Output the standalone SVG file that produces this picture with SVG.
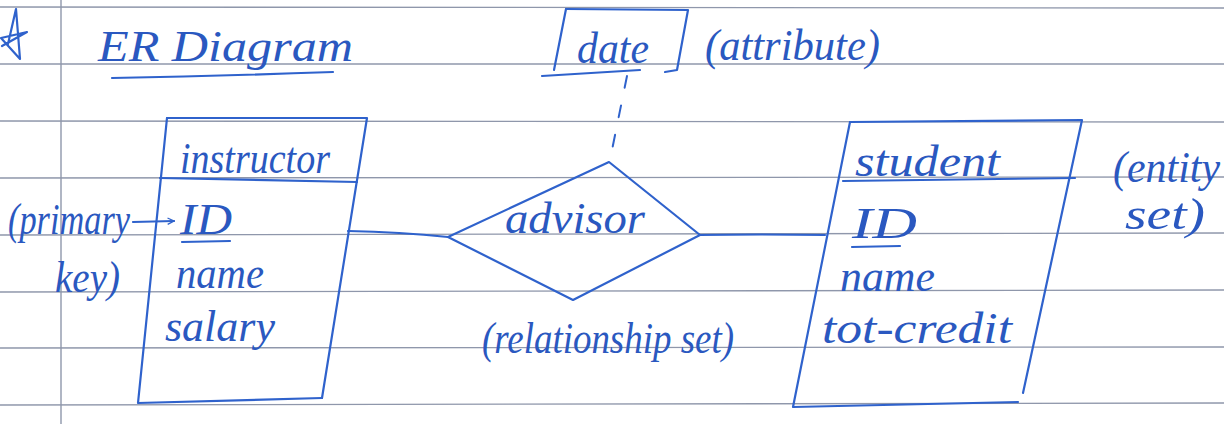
<svg xmlns="http://www.w3.org/2000/svg" width="1224" height="424" viewBox="0 0 1224 424">
<style>
.rule{stroke:#8f97ab;stroke-width:1.4;fill:none}
.pen{stroke:#2f62cc;stroke-width:2.2;fill:none;stroke-linecap:round;stroke-linejoin:round}
.dash{stroke:#2f62cc;stroke-width:2;fill:none;stroke-dasharray:12 18;stroke-linecap:round}
.hw{font-family:"Liberation Serif","DejaVu Serif",serif;font-style:italic;fill:#2a58c0;font-size:44px}
</style>
<defs>
<marker id="arr" viewBox="0 0 10 10" refX="9" refY="5" markerWidth="8" markerHeight="8" orient="auto" markerUnits="userSpaceOnUse">
<path d="M1,1 L9,5 L1,9" fill="none" stroke="#2f62cc" stroke-width="1.6"/>
</marker>
</defs>
<rect width="1224" height="424" fill="#ffffff"/>
<g id="paper">
<line class="rule" x1="0" y1="7" x2="1224" y2="8"/>
<line class="rule" x1="0" y1="64" x2="1224" y2="64"/>
<line class="rule" x1="0" y1="121" x2="1224" y2="122"/>
<line class="rule" x1="0" y1="178" x2="1224" y2="177"/>
<line class="rule" x1="0" y1="235" x2="1224" y2="233"/>
<line class="rule" x1="0" y1="292" x2="1224" y2="290"/>
<line class="rule" x1="0" y1="348" x2="1224" y2="347"/>
<line class="rule" x1="0" y1="405" x2="1224" y2="403"/>
<line class="rule" x1="61" y1="0" x2="61" y2="424"/>
</g>
<g id="title">
<path class="pen" d="M16,9 L20,59 L1,38 L27,32 L2,46 M16,9 L8,44"/>
<text class="hw" x="98" y="61" font-size="52" textLength="255" lengthAdjust="spacingAndGlyphs">ER Diagram</text>
<path class="pen" d="M112,78 Q220,76 333,72"/>
</g>
<g id="connectors">
<path class="pen" d="M348,231 Q400,232 448,237"/>
<path class="pen" d="M700,235 Q760,234 825,235"/>
<path class="dash" d="M627,76 L610,160"/>
</g>
<g id="node-instructor">
<path class="pen" d="M167,118 L367,118 L322,398"/>
<path class="pen" d="M167,118 L138,403 L322,398"/>
<path class="pen" d="M160,178 L357,182"/>
<text class="hw" x="180" y="173" textLength="150" lengthAdjust="spacingAndGlyphs">instructor</text>
<text class="hw" x="180" y="234" textLength="52" lengthAdjust="spacingAndGlyphs">ID</text>
<path class="pen" d="M182,242 L230,241"/>
<text class="hw" x="176" y="288" textLength="88" lengthAdjust="spacingAndGlyphs">name</text>
<text class="hw" x="165" y="341" textLength="110" lengthAdjust="spacingAndGlyphs">salary</text>
</g>
<g id="note-primary-key">
<text class="hw" x="8" y="234" textLength="122" lengthAdjust="spacingAndGlyphs">(primary</text>
<text class="hw" x="55" y="292" textLength="65" lengthAdjust="spacingAndGlyphs">key)</text>
<line class="pen" x1="133" y1="222" x2="174" y2="221" marker-end="url(#arr)"/>
</g>
<g id="node-advisor">
<path class="pen" d="M448,237 L609,162 L700,235 L573,300 Z"/>
<text class="hw" x="505" y="233" textLength="140" lengthAdjust="spacingAndGlyphs">advisor</text>
<text class="hw" x="482" y="353" font-size="46" textLength="252" lengthAdjust="spacingAndGlyphs">(relationship set)</text>
</g>
<g id="node-date">
<path class="pen" d="M566,9 L688,10 L677,70 L665,72"/>
<path class="pen" d="M566,9 L554,70"/>
<path class="pen" d="M542,76 L640,70"/>
<text class="hw" x="577" y="63" font-size="46" textLength="72" lengthAdjust="spacingAndGlyphs">date</text>
<text class="hw" x="705" y="60" font-size="46" textLength="175" lengthAdjust="spacingAndGlyphs">(attribute)</text>
</g>
<g id="node-student">
<path class="pen" d="M850,122 L1082,120 L1023,393"/>
<path class="pen" d="M850,122 L793,407 L1018,402"/>
<path class="pen" d="M843,181 L1075,178"/>
<text class="hw" x="855" y="176" font-size="46" textLength="145" lengthAdjust="spacingAndGlyphs">student</text>
<text class="hw" x="852" y="238" textLength="65" lengthAdjust="spacingAndGlyphs">ID</text>
<path class="pen" d="M852,247 L900,246"/>
<text class="hw" x="840" y="291" textLength="95" lengthAdjust="spacingAndGlyphs">name</text>
<text class="hw" x="822" y="343" textLength="190" lengthAdjust="spacingAndGlyphs">tot-credit</text>
<text class="hw" x="1113" y="182" textLength="107" lengthAdjust="spacingAndGlyphs">(entity</text>
<text class="hw" x="1125" y="229" textLength="80" lengthAdjust="spacingAndGlyphs">set)</text>
</g>
</svg>
